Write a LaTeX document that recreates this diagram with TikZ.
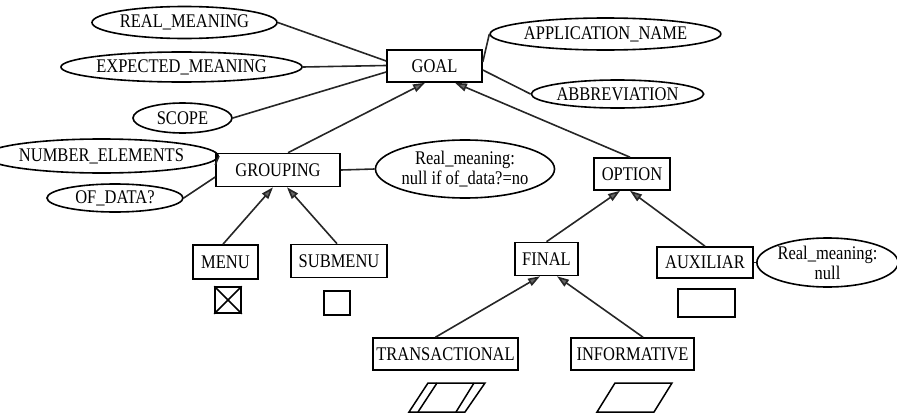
\documentclass[tikz,border=0pt]{standalone}
\usepackage{fontspec}
\setmainfont{Liberation Serif}
\usetikzlibrary{shapes.geometric,arrows.meta}
\newcommand\vs[1]{\scalebox{1}[1.17]{#1}}
\begin{document}
\begin{tikzpicture}[x=1pt,y=-1pt,
  font=\fontsize{16.5}{17}\selectfont,
  box/.style={draw, line width=1.6pt, inner sep=0pt},
  ell/.style={draw, ellipse, line width=1.6pt, inner sep=0pt, align=center},
  conn/.style={line width=1.6pt, draw=black!85},
  arr/.style={conn, -{Triangle[length=12pt,width=8pt,fill=black!60]}},
  icon/.style={draw, line width=1.5pt, inner sep=0pt}]
\useasboundingbox (0,0) rectangle (897,415);
% boxes
\node[box, minimum width=95pt, minimum height=32pt] (goal) at (434.5,66) {\vs{GOAL}};
\node[box, minimum width=124pt, minimum height=33pt] (grouping) at (278,170) {\vs{GROUPING}};
\node[box, minimum width=76pt, minimum height=32pt] (option) at (632,174) {\vs{OPTION}};
\node[box, minimum width=65pt, minimum height=34pt] (menu) at (225.5,262) {\vs{MENU}};
\node[box, minimum width=96pt, minimum height=33pt] (submenu) at (339,261) {\vs{SUBMENU}};
\node[box, minimum width=63pt, minimum height=33pt] (final) at (546.5,259) {\vs{FINAL}};
\node[box, minimum width=96pt, minimum height=31pt] (auxiliar) at (705,262.5) {\vs{AUXILIAR}};
\node[box, minimum width=145pt, minimum height=32pt] (trans) at (445.5,354) {\vs{TRANSACTIONAL}};
\node[box, minimum width=123pt, minimum height=32pt] (inform) at (632.5,354) {\vs{INFORMATIVE}};
% ellipses
\node[ell, minimum width=185pt, minimum height=32pt] (realm) at (184.5,22.5) {\vs{REAL\_MEANING}};
\node[ell, minimum width=229pt, minimum height=30pt] (expm) at (181.5,67) {\vs{EXPECTED\_MEANING}};
\node[ell, minimum width=99pt, minimum height=30pt] (scope) at (182.5,118) {\vs{SCOPE}};
\node[ell, minimum width=205pt, minimum height=32pt] (appname) at (605.5,34) {\vs{APPLICATION\_NAME}};
\node[ell, minimum width=157pt, minimum height=28pt] (abbrev) at (617.5,94) {\vs{ABBREVIATION}};
\node[ell, minimum width=197pt, minimum height=34pt] (numel) at (101.5,156) {\vs{NUMBER\_ELEMENTS}};
\node[ell, minimum width=136pt, minimum height=28pt] (ofdata) at (115,198) {\vs{OF\_DATA?}};
\node[ell, minimum width=170pt, minimum height=58pt, font=\fontsize{16.5}{20}\selectfont] (rmgroup) at (465,169) {\vs{Real\_meaning:}\\\vs{null if of\_data?=no}};
\node[ell, minimum width=125pt, minimum height=49pt, font=\fontsize{16.5}{20}\selectfont] (rmaux) at (827.5,262.5) {\vs{Real\_meaning:}\\\vs{null}};
% attribute connectors
\draw[conn] (realm.east) -- ([yshift=5pt]goal.west);
\draw[conn] (expm.east) -- ([yshift=0.5pt]goal.west);
\draw[conn] (scope.east) -- ([yshift=-6pt]goal.west);
\draw[conn] (appname.west) -- ([yshift=4pt]goal.east);
\draw[conn] (abbrev.west) -- ([yshift=-4pt]goal.east);
\draw[conn] (numel.east) -- ([yshift=5pt]grouping.west);
\draw[conn] (ofdata.east) -- ([yshift=-7pt]grouping.west);
\draw[conn] (grouping.east) -- (rmgroup.west);
\draw[conn] (auxiliar.east) -- (rmaux.west);
% hierarchy arrows
\draw[arr] ([xshift=10pt]grouping.north) -- ([xshift=-9.5pt]goal.south);
\draw[arr] ([xshift=-2pt]option.north) -- ([xshift=20.5pt]goal.south);
\draw[arr] ([xshift=-2.5pt]menu.north) -- ([xshift=-5pt]grouping.south);
\draw[arr] ([xshift=-2pt]submenu.north) -- ([xshift=9pt]grouping.south);
\draw[arr] (final.north) -- ([xshift=-12pt]option.south);
\draw[arr] (auxiliar.north) -- ([xshift=-2pt]option.south);
\draw[arr] ([xshift=-10pt]trans.north) -- ([xshift=-6.5pt]final.south);
\draw[arr] ([xshift=10.5pt]inform.north) -- ([xshift=10.5pt]final.south);
% icons
\node[icon, minimum width=26pt, minimum height=26pt] (menuicon) at (228,300) {};
\draw[line width=1.5pt] (menuicon.north west) -- (menuicon.south east)
  (menuicon.north east) -- (menuicon.south west);
\node[icon, minimum width=26pt, minimum height=24pt] (submenuicon) at (337,303) {};
\node[icon, minimum width=57pt, minimum height=28pt] (auxicon) at (706.5,303) {};
% parallelograms
\draw[line width=1.5pt] (409,412) -- (428,383) -- (485,383) -- (465,412) -- cycle;
\draw[line width=1.5pt] (418,412) -- (437,383);
\draw[line width=1.5pt] (474,383) -- (456,412);
\draw[line width=1.5pt] (597,412) -- (615,383) -- (672,383) -- (654,412) -- cycle;
\end{tikzpicture}
\end{document}
